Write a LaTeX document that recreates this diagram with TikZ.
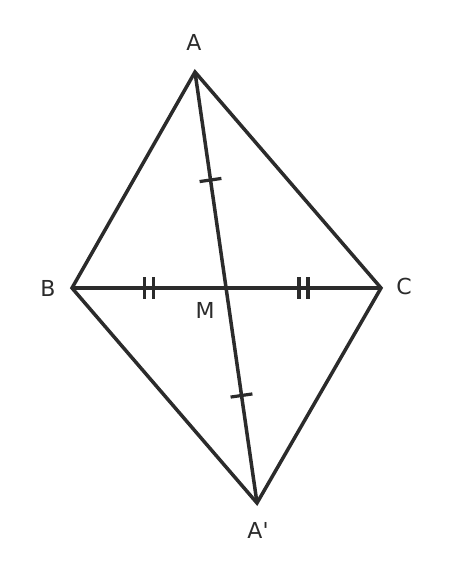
\documentclass[tikz,border=0pt]{standalone}
\usepackage{fontspec}
\setmainfont{DejaVu Sans}[Ligatures=TeXOff]
\usetikzlibrary{calc}
\definecolor{ink}{HTML}{2B2B2B}
\begin{document}
\begin{tikzpicture}[x=1bp,y=-1bp,
  seg/.style={draw=ink,line width=3.5bp},
  tick/.style={draw=ink,line width=3.2bp},
  lbl/.style={text=ink,font=\fontsize{22bp}{26bp}\selectfont,inner sep=0pt}]
\useasboundingbox (0,0) rectangle (452,576);
\coordinate (A) at (195,72);
\coordinate (B) at (72,288);
\coordinate (C) at (381,288);
\coordinate (A2) at (257,503);
\coordinate (M) at (226,288);
\draw[seg,line join=miter] (A) -- (B) -- (A2) -- (C) -- cycle;
\draw[seg] (A) -- (A2);
\draw[seg] (B) -- (C);
% single ticks
\coordinate (t1) at ($(A)!0.5!(M)$);
\coordinate (t2) at ($(M)!0.5!(A2)$);
\draw[tick] ($(t1)!11bp!90:(M)$) -- ($(t1)!11bp!-90:(M)$);
\draw[tick] ($(t2)!11bp!90:(A2)$) -- ($(t2)!11bp!-90:(A2)$);
% double ticks
\coordinate (d1) at ($(B)!0.5!(M)$);
\coordinate (d2) at ($(M)!0.5!(C)$);
\foreach \p/\q in {d1/M,d2/C}{
  \coordinate (pa) at ($(\p)!-4.5bp!(\q)$);
  \coordinate (pb) at ($(\p)!4.5bp!(\q)$);
  \draw[tick] ($(pa)!11bp!90:(\q)$) -- ($(pa)!11bp!-90:(\q)$);
  \draw[tick] ($(pb)!11bp!90:(\q)$) -- ($(pb)!11bp!-90:(\q)$);
}
\node[lbl] (lA) at (194,42) {A};
\node[lbl] (lB) at (48,288) {B};
\node[lbl] (lC) at (404,286) {C};
\node[lbl] (lM) at (205,310) {M};
\node[lbl] (lA2) at (258,530) {A'};
\end{tikzpicture}
\end{document}
